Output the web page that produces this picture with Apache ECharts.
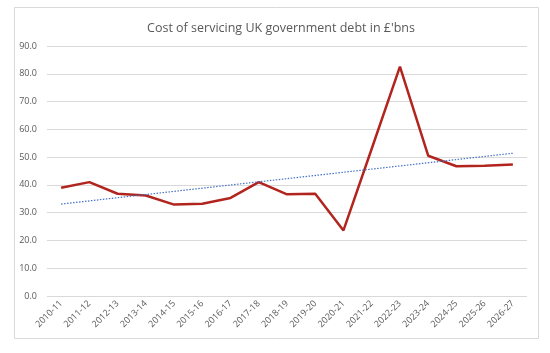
<!DOCTYPE html>
<html>
<head>
<meta charset="utf-8">
<script src="https://cdn.jsdelivr.net/npm/echarts@6/dist/echarts.min.js"></script>
<style>
    html, body { margin: 0; padding: 0; background: #fff; }
    #chart { width: 550px; height: 353px; }
</style>
</head>
<body>
<div id="chart"></div>
<script>
// 年份
const years = ['2010-11', '2011-12', '2012-13', '2013-14', '2014-15', '2015-16', '2016-17', '2017-18', '2018-19',
    '2019-20', '2020-21', '2021-22', '2022-23', '2023-24', '2024-25', '2025-26', '2026-27'];
// 债务成本 (£bn)
const debtCost = [39.0, 41.0, 36.8, 36.2, 32.9, 33.2, 35.3, 41.0, 36.6, 36.8, 23.6, 53.0, 82.6, 50.5, 46.7, 46.9, 47.3];
// 趋势线两端
const trendStart = 33.1;
const trendEnd = 51.4;
const yTicks = [0, 90, 10]; // min, max, interval

(function () {
    let myChart = echarts.init(document.getElementById('chart'));
    let trendData = years.map((y, i) => i === 0 ? trendStart : (i === years.length - 1 ? trendEnd : null));
    let option = {
        animation: false,
        title: {
            text: "Cost of servicing UK government debt in £'bns",
            left: 276,
            textAlign: 'center',
            top: 17,
            textStyle: {
                color: '#595959',
                fontSize: 12.5,
                fontWeight: 'normal',
                fontFamily: 'Open Sans'
            }
        },
        graphic: [{
            type: 'rect',
            shape: { x: 14.5, y: 7.5, width: 524, height: 331 },
            style: { fill: 'none', stroke: '#d9d9d9', lineWidth: 1 },
            silent: true
        }],
        grid: {
            left: 47,
            right: 23,
            top: 46,
            bottom: 57
        },
        xAxis: {
            type: 'category',
            data: years,
            boundaryGap: true,
            axisTick: { show: false },
            axisLine: { show: false },
            axisLabel: {
                rotate: 45,
                interval: 0,
                color: '#595959',
                fontSize: 9,
                fontFamily: 'Open Sans',
                margin: 6
            }
        },
        yAxis: {
            type: 'value',
            min: yTicks[0],
            max: yTicks[1],
            interval: yTicks[2],
            axisLine: { show: false },
            axisTick: { show: false },
            axisLabel: {
                color: '#595959',
                fontSize: 9,
                fontFamily: 'Open Sans',
                margin: 10,
                formatter: v => v.toFixed(1)
            },
            splitLine: {
                lineStyle: { color: '#d9d9d9', width: 1 }
            }
        },
        series: [
            {
                name: 'Cost',
                type: 'line',
                data: debtCost,
                symbol: 'none',
                lineStyle: { color: '#b2251f', width: 2.5 },
                z: 3
            },
            {
                name: 'Trend',
                type: 'line',
                data: trendData,
                connectNulls: true,
                symbol: 'none',
                lineStyle: { color: '#4472c4', width: 1.2, type: [1.5, 1.5] },
                z: 4
            }
        ]
    };
    myChart.setOption(option);
})();
</script>
</body>
</html>
